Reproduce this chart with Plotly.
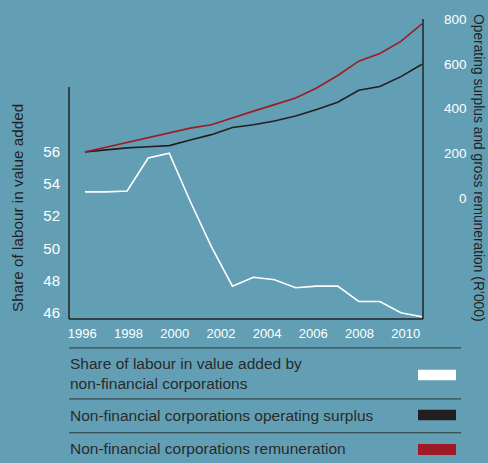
import plotly.graph_objects as go

# Annual observations (17 periods) plotted left to right
period = list(range(17))

# Share of labour in value added by non-financial corporations (%)
labour_share = [53.5, 53.5, 53.55, 55.6, 55.9, 52.9, 50.1, 47.65, 48.2, 48.05,
                47.55, 47.65, 47.65, 46.7, 46.7, 46.0, 45.75]

# Non-financial corporations operating surplus (R'000)
operating_surplus = [207, 217, 225, 230, 235, 260, 284, 316, 328, 345,
                     367, 396, 429, 482, 499, 543, 598]

# Non-financial corporations remuneration (R'000)
remuneration = [207, 228, 248, 269, 291, 313, 328, 360, 389, 418,
                448, 492, 548, 612, 646, 700, 778]

year_ticks = [1996, 1998, 2000, 2002, 2004, 2006, 2008, 2010]
left_ticks = [46, 48, 50, 52, 54, 56]
right_ticks = [0, 200, 400, 600, 800]

series_names = [
    "Share of labour in value added by<br>non-financial corporations",
    "Non-financial corporations operating surplus",
    "Non-financial corporations remuneration",
]

BG = "#639fb4"
WHITE = "#ffffff"
BLACK = "#231f20"
RED = "#9e1b25"
INK = "#222222"
FONT = "Liberation Sans, Arial, sans-serif"

W, H = 488, 463
L, R, T, B = 69, 65, 15, 144
PW, PH = W - L - R, H - T - B


def px_x(x):
    return (x - L) / PW


def px_y(y):
    return (H - B - y) / PH


fig = go.Figure()

fig.add_trace(go.Scatter(x=period, y=labour_share, mode="lines",
                         line=dict(color=WHITE, width=1.6),
                         xaxis="x", yaxis="y", showlegend=False))
fig.add_trace(go.Scatter(x=period, y=operating_surplus, mode="lines",
                         line=dict(color=BLACK, width=1.6),
                         xaxis="x", yaxis="y2", showlegend=False))
fig.add_trace(go.Scatter(x=period, y=remuneration, mode="lines",
                         line=dict(color=RED, width=1.6),
                         xaxis="x", yaxis="y2", showlegend=False))
# carries the year scale so the labelled axis is drawn
fig.add_trace(go.Scatter(x=[], y=[], xaxis="x2", yaxis="y", showlegend=False))

fsp = "\u2007"
right_text = [fsp * (3 - len(str(v))) + str(v) for v in right_ticks]

fig.update_layout(
    width=W, height=H,
    margin=dict(l=L, r=R, t=T, b=B, pad=0),
    paper_bgcolor=BG, plot_bgcolor=BG,
    font=dict(family=FONT, color=WHITE),
    showlegend=False,
    xaxis=dict(range=[-0.76, 16.05], showticklabels=False, showgrid=False,
               zeroline=False, showline=False, ticks=""),
    xaxis2=dict(overlaying="x", anchor="y", side="bottom",
                range=[1995.424, 2010.749], tickvals=year_ticks,
                tickfont=dict(size=13, color=WHITE, family=FONT),
                showgrid=False, zeroline=False, showline=False, ticks="",
                ticklabelstandoff=5),
    yaxis=dict(range=[45.614, 64.22], tickvals=left_ticks,
               tickfont=dict(size=15, color=WHITE, family=FONT),
               showgrid=False, zeroline=False, showline=False, ticks="",
               ticklabelstandoff=8),
    yaxis2=dict(overlaying="y", side="right", anchor="x",
                range=[-538.5, 800], tickvals=right_ticks, ticktext=right_text,
                tickfont=dict(size=13.5, color=WHITE, family=FONT),
                showgrid=False, zeroline=False, showline=False, ticks="",
                ticklabelstandoff=20),
)

axis_line = dict(color=INK, width=1.5)
shapes = [
    # left axis stops at the top of the share scale
    dict(type="line", xref="paper", yref="y", x0=0, x1=0, y0=45.614, y1=60,
         line=axis_line),
    dict(type="line", xref="paper", yref="paper", x0=0, x1=1, y0=0, y1=0,
         line=axis_line),
    dict(type="line", xref="paper", yref="paper", x0=1, x1=1, y0=0, y1=1,
         line=axis_line),
]

# key table under the plot
for ry in [348.3, 400.0, 434.3]:
    shapes.append(dict(type="line", xref="paper", yref="paper",
                       x0=px_x(69), x1=px_x(461), y0=px_y(ry), y1=px_y(ry),
                       line=dict(color="#2c3438", width=1)))

swatches = [(WHITE, 370.5, 381.0), (BLACK, 411.0, 421.5), (RED, 445.7, 456.7)]
for color, y0, y1 in swatches:
    shapes.append(dict(type="rect", xref="paper", yref="paper",
                       x0=px_x(418), x1=px_x(456), y0=px_y(y1), y1=px_y(y0),
                       fillcolor=color, line=dict(width=0)))

annotations = []
label_centres = [374.2, 416.7, 450.7]
for name, cy in zip(series_names, label_centres):
    annotations.append(dict(text=name, xref="paper", yref="paper",
                            x=px_x(67.5), y=px_y(cy), xanchor="left",
                            yanchor="middle", align="left", showarrow=False,
                            font=dict(size=15.5, color="#2a2a2a", family=FONT)))

annotations.append(dict(text="Share of labour in value added", textangle=-90,
                        xref="paper", yref="paper", x=px_x(18), y=px_y(206.5),
                        xanchor="center", yanchor="middle", showarrow=False,
                        font=dict(size=15.3, color=INK, family=FONT)))
annotations.append(dict(text="Operating surplus and gross remuneration (R\u2019000)",
                        textangle=90, xref="paper", yref="paper",
                        x=px_x(479), y=px_y(166), xanchor="center",
                        yanchor="middle", showarrow=False,
                        font=dict(size=13.8, color=INK, family=FONT)))

fig.update_layout(shapes=shapes, annotations=annotations)

fig.write_html("out.html")
